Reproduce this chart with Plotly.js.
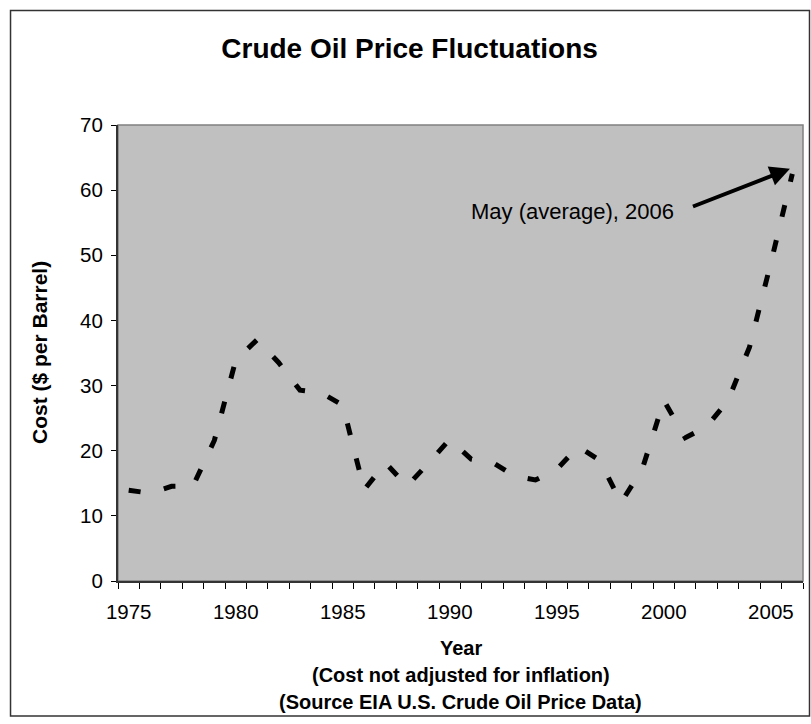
<!DOCTYPE html>
<html>
<head>
<meta charset="utf-8">
<script src="https://cdn.plot.ly/plotly-3.0.1.min.js"></script>
<style>
  html, body { margin: 0; padding: 0; background: #ffffff; }
  #chart { width: 811px; height: 724px; }
</style>
</head>
<body>
<div id="chart"></div>
<script>
// Years (category axis) and prices ($ per barrel, not adjusted for inflation)
const years = [1975, 1976, 1977, 1978, 1979, 1980, 1981, 1982, 1983, 1984,
               1985, 1986, 1987, 1988, 1989, 1990, 1991, 1992, 1993, 1994,
               1995, 1996, 1997, 1998, 1999, 2000, 2001, 2002, 2003, 2004,
               2005, 2006];
const prices = [13.93, 13.48, 14.53, 14.57, 21.57, 33.89, 37.05, 33.55, 29.30, 28.88,
                26.99, 14.00, 18.13, 14.56, 18.08, 21.76, 18.70, 18.20, 16.14, 15.51,
                17.14, 20.64, 18.53, 12.04, 17.26, 27.70, 22.00, 23.71, 27.71, 35.90,
                48.86, 62.5];
const tickYears = [1975, 1980, 1985, 1990, 1995, 2000, 2005];
const tickLabels = ["1975", "1980", "1985", "1990", "1995", "2000", "2005"];
const yTicks = [0, 10, 20, 30, 40, 50, 60, 70];

const titleText = "Crude Oil Price Fluctuations";
const xTitleLines = ["Year", "(Cost not adjusted for inflation)", "(Source EIA U.S. Crude Oil Price Data)"];
const yTitleText = "Cost ($ per Barrel)";
const noteText = "May (average), 2006";

const FONT = "Liberation Sans, Arial, Helvetica, sans-serif";

const trace = {
  type: "scatter",
  mode: "lines",
  x: years,
  y: prices,
  line: { color: "#000000", width: 5, dash: "12px,24px", shape: "linear" },
  hoverinfo: "x+y",
  showlegend: false
};

// vertical positions (paper units) of the three x-title lines
const xTitleY = [-0.1469, -0.2061, -0.2654];

const annotations = xTitleLines.map((t, i) => ({
  text: "<b>" + t + "</b>",
  xref: "paper", yref: "paper",
  x: 0.5, y: xTitleY[i],
  xanchor: "center", yanchor: "middle",
  showarrow: false,
  font: { family: FONT, size: 20, color: "#000000" }
}));

annotations.push({
  text: "<b>" + yTitleText + "</b>",
  xref: "paper", yref: "paper",
  x: -0.1153, y: 0.5,
  xanchor: "center", yanchor: "middle",
  textangle: -90,
  showarrow: false,
  font: { family: FONT, size: 21, color: "#000000" }
});

annotations.push({
  text: noteText,
  xref: "x", yref: "y",
  x: 1995.72, y: 56.75,
  xanchor: "center", yanchor: "middle",
  showarrow: false,
  font: { family: FONT, size: 22, color: "#000000" }
});

annotations.push({
  text: "",
  xref: "x", yref: "y", axref: "x", ayref: "y",
  x: 2005.89, y: 63.3,
  ax: 2001.29, ay: 57.4,
  showarrow: true,
  arrowhead: 2,
  arrowsize: 1,
  arrowwidth: 4,
  arrowcolor: "#000000"
});

const layout = {
  width: 811,
  height: 724,
  margin: { l: 118, r: 8, t: 125, b: 143, pad: 0 },
  paper_bgcolor: "#ffffff",
  plot_bgcolor: "#c0c0c0",
  font: { family: FONT, size: 20, color: "#000000" },
  showlegend: false,
  title: {
    text: "<b>" + titleText + "</b>",
    font: { family: FONT, size: 28, color: "#000000" },
    xref: "container", x: 0.505, xanchor: "center",
    yref: "container", y: 0.934, yanchor: "middle"
  },
  xaxis: {
    range: [1974.5, 2006.5],
    tickmode: "array",
    tickvals: tickYears,
    ticktext: tickLabels,
    ticks: "",
    showgrid: false,
    zeroline: false,
    showline: true,
    linecolor: "#333333",
    linewidth: 2,
    tickfont: { family: FONT, size: 20.5, color: "#000000" },
    ticklabelstandoff: 11,
    minor: { tickmode: "linear", tick0: 1974.5, dtick: 1, ticks: "outside", ticklen: 6, tickwidth: 1, tickcolor: "#000000", showgrid: false },
    automargin: false,
    fixedrange: true
  },
  yaxis: {
    range: [0, 70],
    tickmode: "array",
    tickvals: yTicks,
    ticks: "outside",
    ticklen: 5,
    tickwidth: 1,
    tickcolor: "#000000",
    showgrid: false,
    zeroline: false,
    showline: true,
    linecolor: "#333333",
    linewidth: 2,
    tickfont: { family: FONT, size: 20.5, color: "#000000" },
    ticklabelstandoff: 4,
    automargin: false,
    fixedrange: true
  },
  shapes: [
    {
      type: "rect", xref: "paper", yref: "paper", layer: "below",
      x0: 0, x1: 1, y0: 0, y1: 1,
      line: { color: "#808080", width: 1.5 }
    },
    {
      type: "rect", xref: "paper", yref: "paper", layer: "below",
      x0: -0.1569, x1: 1.0095, y0: -0.296, y1: 1.2511,
      line: { color: "#333333", width: 1.5 }
    }
  ],
  annotations: annotations
};

Plotly.newPlot("chart", [trace], layout, { displayModeBar: false, staticPlot: true });
</script>
</body>
</html>
